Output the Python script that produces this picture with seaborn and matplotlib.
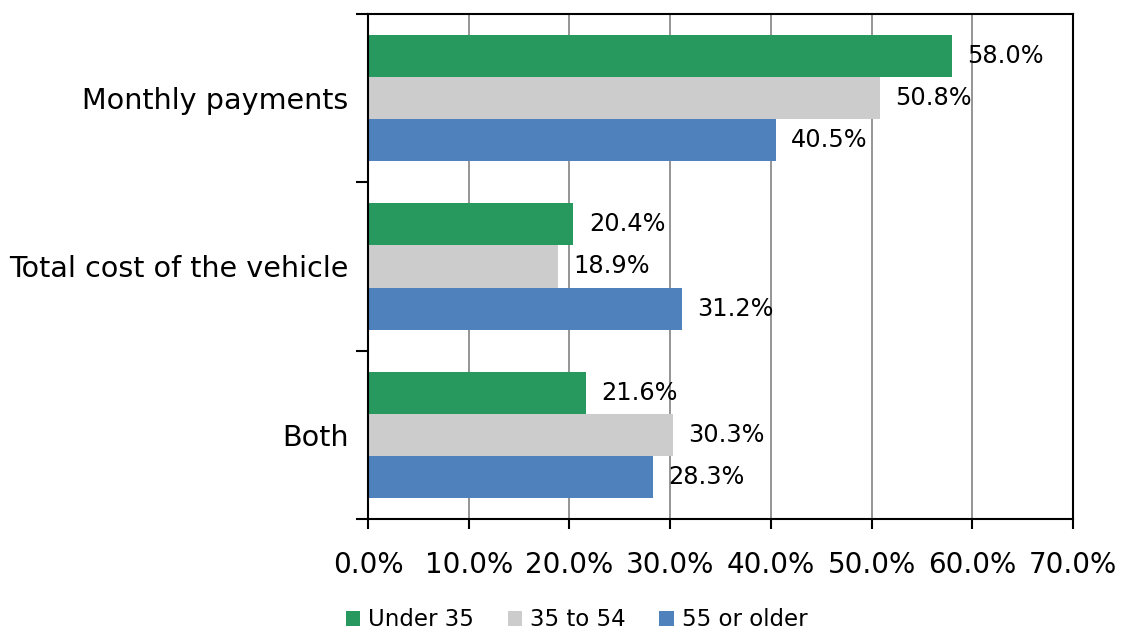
import matplotlib
matplotlib.use("Agg")
import matplotlib.pyplot as plt
import seaborn as sns
import pandas as pd
from matplotlib.ticker import FuncFormatter, FixedLocator

categories = ["Monthly payments", "Total cost of the vehicle", "Both"]
groups = ["Under 35", "35 to 54", "55 or older"]
under_35 = [58.0, 20.4, 21.6]
age_35_54 = [50.8, 18.9, 30.3]
age_55_plus = [40.5, 31.2, 28.3]
colors = ["#27985e", "#cccccc", "#4f81bd"]
x_ticks = [0, 10, 20, 30, 40, 50, 60, 70]

rows = []
for g, vals in zip(groups, [under_35, age_35_54, age_55_plus]):
    for c, v in zip(categories, vals):
        rows.append({"category": c, "group": g, "value": v})
df = pd.DataFrame(rows)

sns.set_style("white")
plt.rcParams["font.family"] = ["DejaVu Sans"]
plt.rcParams["text.color"] = "black"
plt.rcParams["xtick.color"] = "black"
plt.rcParams["ytick.color"] = "black"
plt.rcParams["axes.labelcolor"] = "black"

fig = plt.figure(figsize=(11.24, 6.33), dpi=100)
ax = fig.add_axes([0.3274, 0.180, 0.6273, 0.798])

sns.barplot(data=df, y="category", x="value", hue="group", order=categories,
            hue_order=groups, palette=colors, orient="h", width=0.75,
            saturation=1, edgecolor="none", linewidth=0, ax=ax, legend=True,
            errorbar=None)

for cont in ax.containers:
    ax.bar_label(cont, labels=[f"{v:.1f}%" for v in cont.datavalues],
                 padding=11, fontsize=17.3, color="black")

ax.set_xlim(0, 70)
ax.set_ylim(2.5, -0.5)
ax.xaxis.set_major_locator(FixedLocator(x_ticks))
ax.xaxis.set_major_formatter(FuncFormatter(lambda v, p: f"{v:.1f}%"))
ax.grid(axis="x", color="#8c8c8c", linewidth=1.3)
ax.set_axisbelow(True)
ax.set_xlabel("")
ax.set_ylabel("")

ax.set_yticks(range(len(categories)))
ax.set_yticklabels(categories)
ax.yaxis.set_minor_locator(FixedLocator([-0.5, 0.5, 1.5, 2.5]))
ax.tick_params(axis="y", which="major", length=0, pad=14, labelsize=20.6, labelcolor="black")
ax.tick_params(axis="y", which="minor", length=9, width=1.5, direction="out", left=True, color="black")
ax.tick_params(axis="x", which="major", length=7, width=1.5, direction="out", bottom=True,
               labelsize=20, pad=16, color="black", labelcolor="black")

for side in ["left", "bottom", "top", "right"]:
    ax.spines[side].set_visible(True)
    ax.spines[side].set_color("black")
    ax.spines[side].set_linewidth(1.5)

handles, labels = ax.get_legend_handles_labels()
ax.legend_.remove()
fig.legend(handles, labels, loc="lower center", bbox_to_anchor=(0.513, -0.03), ncol=3,
           frameon=False, handlelength=0.63, handleheight=0.63, handletextpad=0.36,
           columnspacing=1.45, fontsize=16.5)

fig.savefig("out.png", dpi=100)
